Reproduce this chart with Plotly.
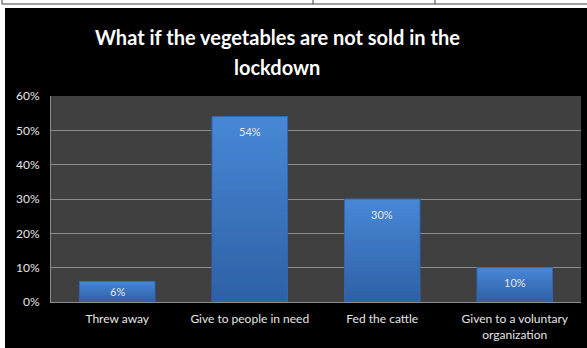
import plotly.graph_objects as go

categories = ["Threw away", "Give to people in need", "Fed the cattle", "Given to a voluntary<br>organization"]
values = [6, 54, 30, 10]
tick_vals = [0, 10, 20, 30, 40, 50, 60]
tick_text = ["0%", "10%", "20%", "30%", "40%", "50%", "60%"]
title_lines = ["What if the vegetables are not sold in the", "lockdown"]

W, H = 587, 348
ml, mr, mt, mb = 51, 6, 96, 46
pw, ph = W - ml - mr, H - mt - mb
px_per_unit = ph / 60.0


def fx(px):
    return (px - ml) / pw


def fy(py):
    return (H - mb - py) / ph


top_rgb = (72, 136, 214)
bot_rgb = (46, 96, 166)
N = 30

fig = go.Figure()
for i in range(N):
    t = (i + 0.5) / N
    col = tuple(round(b + (a - b) * t) for a, b in zip(top_rgb, bot_rgb))
    fig.add_trace(go.Bar(
        x=categories, y=[v * (1 - i / N) for v in values], base=[v * i / N for v in values],
        marker=dict(color="rgb(%d,%d,%d)" % col, line=dict(width=0)),
        width=0.57, hoverinfo="skip", offsetgroup="a",
    ))
# outline
fig.add_trace(go.Bar(
    x=categories, y=values,
    marker=dict(color="rgba(0,0,0,0)", line=dict(color="#3566ad", width=1)),
    width=0.57, hoverinfo="skip", offsetgroup="a",
))

annotations = []
for c, v in zip(categories, values):
    shift = -min(15, v * px_per_unit / 2)
    annotations.append(dict(x=c, y=v, xref="x", yref="y", text=f"{v}%", showarrow=False,
                            yshift=shift, font=dict(family="Lato", size=11, color="#e6e6e6")))
for k, line in enumerate(title_lines):
    annotations.append(dict(x=fx(277), y=fy(37 + 30 * k), xref="paper", yref="paper", text=line,
                            showarrow=False, xanchor="center", yanchor="middle",
                            font=dict(family="Lato", size=20, color="white", weight="bold")))

line_col = "#404040"
shapes = [
    dict(type="rect", xref="paper", yref="paper", x0=fx(0), x1=fx(W), y0=fy(8), y1=fy(0),
         fillcolor="white", line=dict(width=0), layer="above"),
    dict(type="rect", xref="paper", yref="paper", x0=fx(0), x1=fx(5), y0=fy(H), y1=fy(0),
         fillcolor="white", line=dict(width=0), layer="above"),
    dict(type="line", xref="paper", yref="paper", x0=fx(2), x1=fx(W), y0=fy(4), y1=fy(4),
         line=dict(color=line_col, width=1)),
    dict(type="line", xref="paper", yref="paper", x0=fx(2), x1=fx(2), y0=fy(0), y1=fy(4),
         line=dict(color=line_col, width=1)),
    dict(type="line", xref="paper", yref="paper", x0=fx(313), x1=fx(313), y0=fy(0), y1=fy(4),
         line=dict(color=line_col, width=1)),
    dict(type="line", xref="paper", yref="paper", x0=fx(435), x1=fx(435), y0=fy(0), y1=fy(4),
         line=dict(color=line_col, width=1)),
]

fig.update_layout(
    width=W, height=H,
    margin=dict(l=ml, r=mr, t=mt, b=mb),
    paper_bgcolor="black",
    plot_bgcolor="#404040",
    showlegend=False,
    barmode="overlay",
    annotations=annotations,
    shapes=shapes,
    xaxis=dict(showgrid=False, tickfont=dict(family="Lato", size=12, color="#e6e6e6"),
               ticks="", showline=True, linecolor="#8c8c8c", linewidth=1, fixedrange=True,
               ticklabelstandoff=6),
    yaxis=dict(range=[0, 60], tickvals=tick_vals, ticktext=tick_text,
               tickfont=dict(family="Lato", size=12, color="#e6e6e6"),
               gridcolor="#8c8c8c", gridwidth=1, zeroline=False, ticks="",
               showline=True, linecolor="#8c8c8c", fixedrange=True,
               ticklabelstandoff=8),
)

fig.write_html("out.html", config={"displayModeBar": False})
